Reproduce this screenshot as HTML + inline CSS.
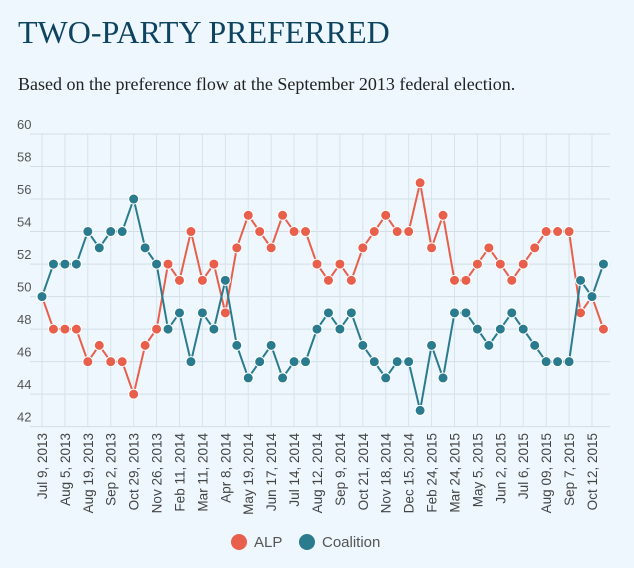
<!DOCTYPE html>
<html><head><meta charset="utf-8"><style>
body{margin:0;background:#eef7fd;width:634px;height:568px;overflow:hidden;font-family:"Liberation Sans",sans-serif}
h1{position:absolute;left:18px;top:14px;margin:0;font:32px "Liberation Serif",serif;color:#0e4460;letter-spacing:0px}
p{position:absolute;left:18px;top:74px;margin:0;font:18px "Liberation Serif",serif;color:#222}
svg{position:absolute;left:0;top:0}
</style></head><body>
<h1>TWO-PARTY PREFERRED</h1>
<p>Based on the preference flow at the September 2013 federal election.</p>
<svg id="c" width="634" height="568"></svg>
<script>
const dateLabels=["Jul 9, 2013","Aug 5, 2013","Aug 19, 2013","Sep 2, 2013","Oct 29, 2013","Nov 26, 2013","Feb 11, 2014","Mar 11, 2014","Apr 8, 2014","May 19, 2014","Jun 17, 2014","Jul 14, 2014","Aug 12, 2014","Sep 9, 2014","Oct 21, 2014","Nov 18, 2014","Dec 15, 2014","Feb 24, 2015","Mar 24, 2015","May 5, 2015","Jun 2, 2015","Jul 6, 2015","Aug 09, 2015","Sep 7, 2015","Oct 12, 2015"];
const coalition=[50,52,52,52,54,53,54,54,56,53,52,48,49,46,49,48,51,47,45,46,47,45,46,46,48,49,48,49,47,46,45,46,46,43,47,45,49,49,48,47,48,49,48,47,46,46,46,51,50,52];
const alp=[50,48,48,48,46,47,46,46,44,47,48,52,51,54,51,52,49,53,55,54,53,55,54,54,52,51,52,51,53,54,55,54,54,57,53,55,51,51,52,53,52,51,52,53,54,54,54,49,50,48];
const yTicks=[42,44,46,48,50,52,54,56,58,60];
const NS="http://www.w3.org/2000/svg",svg=document.getElementById('c');
const x=i=>42+i*11.458, y=v=>134+(60-v)*16.26;
function mk(t,a,p){const e=document.createElementNS(NS,t);for(const k in a)e.setAttribute(k,a[k]);(p||svg).appendChild(e);return e;}
yTicks.forEach(v=>{
 const l=mk('line',{x1:30,x2:610,y1:y(v),y2:y(v),stroke:'#d3dde6','stroke-width':1});
 
 
 const t=mk('text',{x:17,y:y(v)-5,'font-size':13,fill:'#555','font-family':'Liberation Sans'});t.textContent=v;
 
 
});
dateLabels.forEach((d,j)=>{
 const xx=x(j*2);
 const l=mk('line',{x1:xx,x2:xx,y1:134,y2:y(42),stroke:'#d8e2ea','stroke-width':1});
 
 
 const t=mk('text',{x:0,y:0,'font-size':13.5,fill:'#444','text-anchor':'end','font-family':'Liberation Sans',transform:`translate(${xx+5},433) rotate(-90)`});t.textContent=d;
 
 
});
function series(vals,col,name){
 const pl=mk('polyline',{points:vals.map((v,i)=>x(i)+','+y(v)).join(' '),fill:'none',stroke:col,'stroke-width':2});
 
 
 vals.forEach((v,i)=>{const c=mk('circle',{cx:x(i),cy:y(v),r:5,fill:col,stroke:'#fff','stroke-width':1});
 
 });
}
series(alp,'#e8604c','alp');
series(coalition,'#2a7b8e','coalition');
[[239,'#e8604c','ALP',254],[307,'#2a7b8e','Coalition',322]].forEach(([cx,col,lab,tx])=>{
 const c=mk('circle',{cx:cx,cy:542,r:8,fill:col});
 
 
 const t=mk('text',{x:tx,y:547,'font-size':15,fill:'#555','font-family':'Liberation Sans'});t.textContent=lab;
 
 
});
</script>
</body></html>
